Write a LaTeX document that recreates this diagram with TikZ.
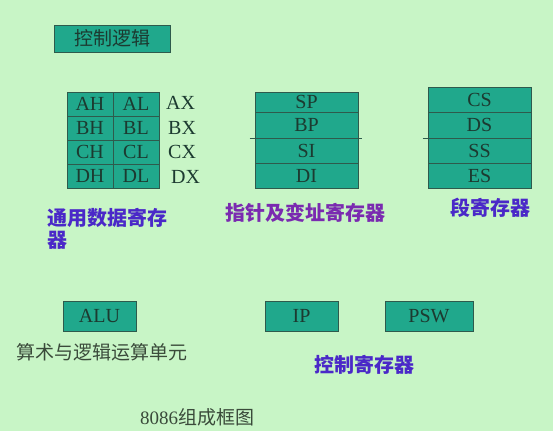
\documentclass[tikz,border=0pt]{standalone}
\usepackage{fontspec}
\setmainfont{Liberation Serif}
\newfontfamily\cjk{Noto Sans CJK SC}
\definecolor{bg}{HTML}{C8F5C6}
\definecolor{boxfill}{HTML}{20A88C}
\definecolor{boxline}{HTML}{2E5A4C}
\definecolor{regtext}{HTML}{1C3A30}
\definecolor{bluelabel}{HTML}{4A28C8}
\definecolor{purplelabel}{HTML}{7A2AB0}
\definecolor{graylabel}{HTML}{3A4A3A}
\tikzset{
  cell/.style={draw=boxline, line width=0.8pt, fill=boxfill, inner sep=0pt, text=regtext, font=\fontsize{20}{20}\selectfont},
  side/.style={inner sep=0pt, text=regtext, font=\fontsize{20}{20}\selectfont},
  caplabel/.style={inner sep=0pt, font=\cjk\fontsize{20}{22}\selectfont\bfseries, anchor=west},
}
\begin{document}
\begin{tikzpicture}[x=1pt,y=-1pt]
\fill[bg] (0,0) rectangle (553,431);
\useasboundingbox (0,0) rectangle (553,431);
% control logic
\node[cell, minimum width=116pt, minimum height=27pt, font=\cjk\fontsize{19}{19}\selectfont] (ctl) at (112,38.5) {控制逻辑};
% general registers
\foreach \n/\l/\r/\y in {a/AH/AL/104, b/BH/BL/128, c/CH/CL/152, d/DH/DL/176}{
  \node[cell, minimum width=46pt, minimum height=24pt] (\n h) at (90,\y) {\l};
  \node[cell, minimum width=46pt, minimum height=24pt] (\n l) at (136,\y) {\r};
}
\node[side, anchor=west] (ax) at (166,103) {AX};
\node[side, anchor=west] (bx) at (168,128) {BX};
\node[side, anchor=west] (cx) at (168,152) {CX};
\node[side, anchor=west] (dx) at (171,177) {DX};
\node[caplabel, text=bluelabel, align=left] (gen) at (47,229) {通用数据寄存\\器};
% pointer registers
\node[cell, minimum width=103pt, minimum height=20pt] (sp) at (306.5,102) {SP};
\node[cell, minimum width=103pt, minimum height=26pt] (bp) at (306.5,125) {BP};
\node[cell, minimum width=103pt, minimum height=25pt] (si) at (306.5,150.5) {SI};
\node[cell, minimum width=103pt, minimum height=25pt] (di) at (306.5,175.5) {DI};
\draw[boxline, line width=0.8pt] ([xshift=-5pt]bp.south west) -- ([xshift=4pt]bp.south east);
\node[caplabel, text=purplelabel] (ptr) at (225,213) {指针及变址寄存器};
% segment registers
\node[cell, minimum width=103pt, minimum height=25pt] (cs) at (479.5,99.5) {CS};
\node[cell, minimum width=103pt, minimum height=26pt] (ds) at (479.5,125) {DS};
\node[cell, minimum width=103pt, minimum height=25pt] (ss) at (479.5,150.5) {SS};
\node[cell, minimum width=103pt, minimum height=25pt] (es) at (479.5,175.5) {ES};
\draw[boxline, line width=0.8pt] ([xshift=-5pt]ds.south west) -- (ds.south east);
\node[caplabel, text=bluelabel] (seg) at (450,208) {段寄存器};
% ALU and control registers
\node[cell, minimum width=73pt, minimum height=30pt] (alu) at (99.5,316) {ALU};
\node[cell, minimum width=73pt, minimum height=30pt] (ip) at (301.5,316) {IP};
\node[cell, minimum width=88pt, minimum height=30pt] (psw) at (429,316) {PSW};
\node[inner sep=0pt, anchor=west, text=graylabel, font=\cjk\fontsize{19}{19}\selectfont] (alulab) at (16,352) {算术与逻辑运算单元};
\node[caplabel, text=bluelabel] (ctlreg) at (314,365) {控制寄存器};
\node[inner sep=0pt, anchor=west, text=graylabel, font=\fontsize{19}{19}\selectfont] (title) at (140,417) {8086{\cjk 组成框图}};
\end{tikzpicture}
\end{document}
